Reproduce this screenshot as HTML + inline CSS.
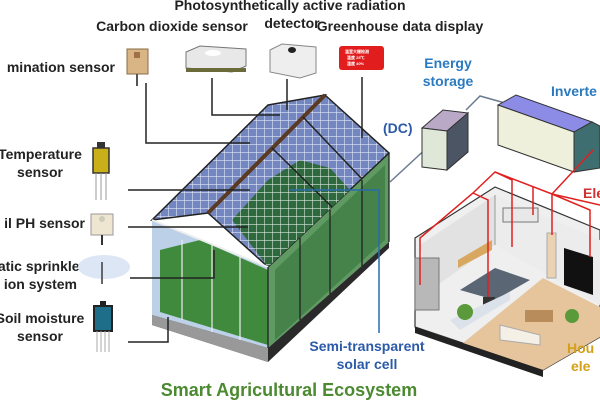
<!DOCTYPE html>
<html><head><meta charset="utf-8"><style>
body{margin:0;width:600px;height:400px;overflow:hidden;background:#fff}
svg{display:block}
text{font-family:"Liberation Sans",Arial,sans-serif;font-weight:bold}
</style></head><body>
<svg width="600" height="400" viewBox="0 0 600 400" xmlns="http://www.w3.org/2000/svg">
<defs>
<pattern id="grid" width="8" height="8" patternUnits="userSpaceOnUse"><rect width="8" height="8" fill="#7486c0"/><path d="M0 0H8M0 0V8" stroke="#dfe6f6" stroke-width="1.2"/></pattern>
<pattern id="ggrid" width="8" height="8" patternUnits="userSpaceOnUse"><rect width="8" height="8" fill="#2f6a3e"/><path d="M0 0H8M0 0V8" stroke="#d8e6dc" stroke-width="1.2"/></pattern>
</defs>
<g font-size="14" fill="#222">
<text x="290" y="10" text-anchor="middle">Photosynthetically active radiation</text>
<text x="292" y="28" text-anchor="middle">detector</text>
<text x="172" y="31" text-anchor="middle">Carbon dioxide sensor</text>
<text x="400" y="31" text-anchor="middle">Greenhouse data display</text>
<text x="115" y="72" text-anchor="end">mination sensor</text>
<text x="40" y="159" text-anchor="middle">Temperature</text>
<text x="40" y="177" text-anchor="middle">sensor</text>
<text x="85" y="228" text-anchor="end">il PH sensor</text>
<text x="85" y="271" text-anchor="end">atic sprinkler</text>
<text x="77" y="289" text-anchor="end">ion system</text>
<text x="40" y="323" text-anchor="middle">Soil moisture</text>
<text x="40" y="341" text-anchor="middle">sensor</text>
</g>
<!-- sensors -->
<rect x="127" y="49" width="21" height="25" fill="#d9b585" stroke="#8a6b48"/><rect x="134" y="52" width="6" height="6" fill="#a0704a"/><line x1="137" y1="74" x2="137" y2="86" stroke="#555" stroke-width="2"/>
<polygon points="186,52 200,46 246,49 246,66 232,72 186,68" fill="#e8e8e8" stroke="#777"/><ellipse cx="213" cy="53" rx="8" ry="3" fill="#fff"/><rect x="186" y="68" width="60" height="4" fill="#6a6a3a"/>
<polygon points="270,50 282,44 316,47 316,73 300,78 270,72" fill="#eeeeee" stroke="#888"/><ellipse cx="292" cy="50" rx="4" ry="3" fill="#222"/>
<rect x="339" y="46" width="45" height="24" rx="3" fill="#e11d1d"/>
<g fill="#fff" font-size="4" font-weight="normal"><text x="345" y="53">温室大棚检测</text><text x="347" y="59">温度 25℃</text><text x="347" y="65">湿度 40%</text></g>
<rect x="93" y="148" width="16" height="25" fill="#c9b018" stroke="#333" stroke-width="1.5"/><rect x="97" y="142" width="8" height="6" fill="#333"/>
<g stroke="#999"><line x1="96" y1="173" x2="96" y2="200"/><line x1="101" y1="173" x2="101" y2="200"/><line x1="106" y1="173" x2="106" y2="200"/></g>
<rect x="91" y="214" width="22" height="21" fill="#efe6d2" stroke="#999"/><circle cx="102" cy="219" r="3" fill="#ccb"/><line x1="102" y1="235" x2="102" y2="245" stroke="#333" stroke-width="2"/>
<ellipse cx="104" cy="267" rx="26" ry="12" fill="#dde6f4"/><line x1="102" y1="262" x2="102" y2="284" stroke="#666" stroke-width="2"/>
<rect x="94" y="306" width="18" height="25" fill="#1e6e8a" stroke="#222" stroke-width="2"/><rect x="100" y="301" width="6" height="5" fill="#222"/>
<g stroke="#aaa"><line x1="97" y1="331" x2="97" y2="352"/><line x1="101" y1="331" x2="101" y2="352"/><line x1="105" y1="331" x2="105" y2="352"/><line x1="109" y1="331" x2="109" y2="352"/></g>
<!-- greenhouse -->
<polygon points="152,220 268,267 268,348 152,315" fill="#bcd0e8"/>
<polygon points="160,250 200,240 268,270 268,345 160,312" fill="#3f8a3c"/>
<polygon points="268,267 389,153 389,242 268,348" fill="#5f9a62"/>
<polygon points="275,270 385,165 385,240 275,340" fill="#3e7d45" opacity="0.8"/>
<polygon points="152,315 268,348 389,242 389,248 268,362 152,325" fill="#2a2a2a"/>
<polygon points="152,315 268,348 268,362 152,325" fill="#999"/>
<polygon points="268,105 325,95 208,213 152,220" fill="url(#grid)" stroke="#222" stroke-width="1.5"/>
<polygon points="325,95 389,153 268,267 208,213" fill="url(#grid)" stroke="#222" stroke-width="1.5"/>
<polygon points="232,220 268,180 300,160 330,168 350,190 268,267" fill="url(#ggrid)"/>
<line x1="325" y1="95" x2="208" y2="213" stroke="#5a3a22" stroke-width="4"/>
<g stroke="#222" stroke-width="1.5"><line x1="303" y1="117" x2="362" y2="179"/><line x1="272" y1="148" x2="332" y2="207"/></g>
<line x1="152" y1="220" x2="268" y2="267" stroke="#eee" stroke-width="2"/>
<g stroke="#222" stroke-width="1.3"><line x1="300" y1="238" x2="300" y2="320"/><line x1="330" y1="210" x2="330" y2="294"/><line x1="362" y1="180" x2="362" y2="266"/><line x1="268" y1="267" x2="268" y2="348"/><line x1="389" y1="153" x2="389" y2="242"/></g>
<g stroke="#eee" stroke-width="1.2"><line x1="182" y1="240" x2="182" y2="320"/><line x1="212" y1="245" x2="212" y2="332"/><line x1="240" y1="255" x2="240" y2="340"/></g>
<!-- connectors -->
<g fill="none" stroke="#222" stroke-width="1.5">
<polyline points="146,83 146,143 250,143"/>
<polyline points="212,78 212,115 280,115"/>
<line x1="287" y1="79" x2="287" y2="110"/>
<line x1="362" y1="77" x2="362" y2="138"/>
<line x1="128" y1="190" x2="250" y2="190"/>
<line x1="128" y1="227" x2="248" y2="227"/>
<polyline points="130,278 214,278 214,250"/>
<polyline points="128,342 168,342 168,317"/>
</g>
<polyline points="290,190 379,190 379,333" fill="none" stroke="#2a6bb0" stroke-width="1.5"/>
<text x="367" y="351" font-size="14" fill="#2b5aa8" text-anchor="middle">Semi-transparent</text>
<text x="367" y="369" font-size="14" fill="#2b5aa8" text-anchor="middle">solar cell</text>
<text x="289" y="396" font-size="18" fill="#4b8a30" text-anchor="middle">Smart Agricultural Ecosystem</text>
<!-- energy -->
<text x="448" y="68" font-size="14" fill="#2a7ac0" text-anchor="middle">Energy</text>
<text x="448" y="86" font-size="14" fill="#2a7ac0" text-anchor="middle">storage</text>
<text x="383" y="133" font-size="14" fill="#2b5aa8">(DC)</text>
<text x="551" y="96" font-size="14" fill="#2a7ac0">Inverte</text>
<text x="583" y="198" font-size="14" fill="#d03030">Ele</text>
<polyline points="466,110 480,96 505,103" fill="none" stroke="#6a7a90" stroke-width="1.5"/>
<line x1="390" y1="182" x2="430" y2="145" stroke="#6a7a90" stroke-width="1.5"/>
<polygon points="422,128 443,110 468,113 447,131" fill="#b9a9c6" stroke="#333"/>
<polygon points="422,128 447,131 447,170 422,167" fill="#dfe8d8" stroke="#333"/>
<polygon points="447,131 468,113 468,152 447,170" fill="#4b5563" stroke="#333"/>
<polygon points="498,105 516,95 592,122 574,132" fill="#8c8ce6" stroke="#333"/>
<polygon points="498,105 574,132 574,172 498,145" fill="#eef0dc" stroke="#333"/>
<polygon points="574,132 592,122 600,126 600,168 574,172" fill="#3f6e70" stroke="#333"/>
<!-- house -->
<polygon points="415,238 495,187 600,230 600,337 543,370 415,327" fill="#efefef" stroke="#333" stroke-width="1.2"/>
<polygon points="420,245 495,195 495,245 430,290" fill="#e2e2e2"/>
<polygon points="495,195 600,240 600,305 495,245" fill="#ececec"/>
<line x1="495" y1="195" x2="495" y2="245" stroke="#999"/>
<polygon points="463,343 543,278 600,307 600,337 543,370" fill="#e6c49c"/>
<polygon points="415,327 543,370 543,377 415,333" fill="#222"/>
<rect x="415" y="258" width="24" height="52" fill="#b8b8b8" stroke="#777"/>
<polygon points="458,260 492,240 492,250 458,268" fill="#d9a860"/>
<polygon points="460,290 495,268 530,280 495,300" fill="#5b6675"/>
<rect x="503" y="208" width="35" height="14" fill="#e8e8e8" stroke="#777"/>
<rect x="547" y="233" width="9" height="45" fill="#ead2b2" stroke="#aaa"/>
<polygon points="564,248 593,257 593,295 564,285" fill="#111"/>
<rect x="483" y="297" width="12" height="12" fill="#333"/>
<rect x="525" y="310" width="28" height="12" fill="#b98c5c"/>
<polygon points="500,325 540,335 540,345 500,340" fill="#f5f0e6" stroke="#aaa"/>
<polygon points="450,320 510,292 510,300 460,330" fill="#dce2ea"/>
<circle cx="465" cy="312" r="8" fill="#5a9a3a"/><circle cx="572" cy="316" r="7" fill="#5a9a3a"/>
<g fill="none" stroke="#e02020" stroke-width="1.5">
<polyline points="420,285 420,238 473,193 495,172 552,194 600,205"/>
<polyline points="473,193 488,200 488,297"/>
<polyline points="495,172 512,180 512,247"/>
<line x1="533" y1="187" x2="533" y2="215"/>
<line x1="552" y1="194" x2="552" y2="235"/>
<polyline points="552,194 590,210 590,257"/>
<line x1="552" y1="194" x2="593" y2="150"/>
</g>
<text x="567" y="353" font-size="14" fill="#d4a017">Hou</text>
<text x="571" y="371" font-size="14" fill="#d4a017">ele</text>
</svg>
</body></html>
